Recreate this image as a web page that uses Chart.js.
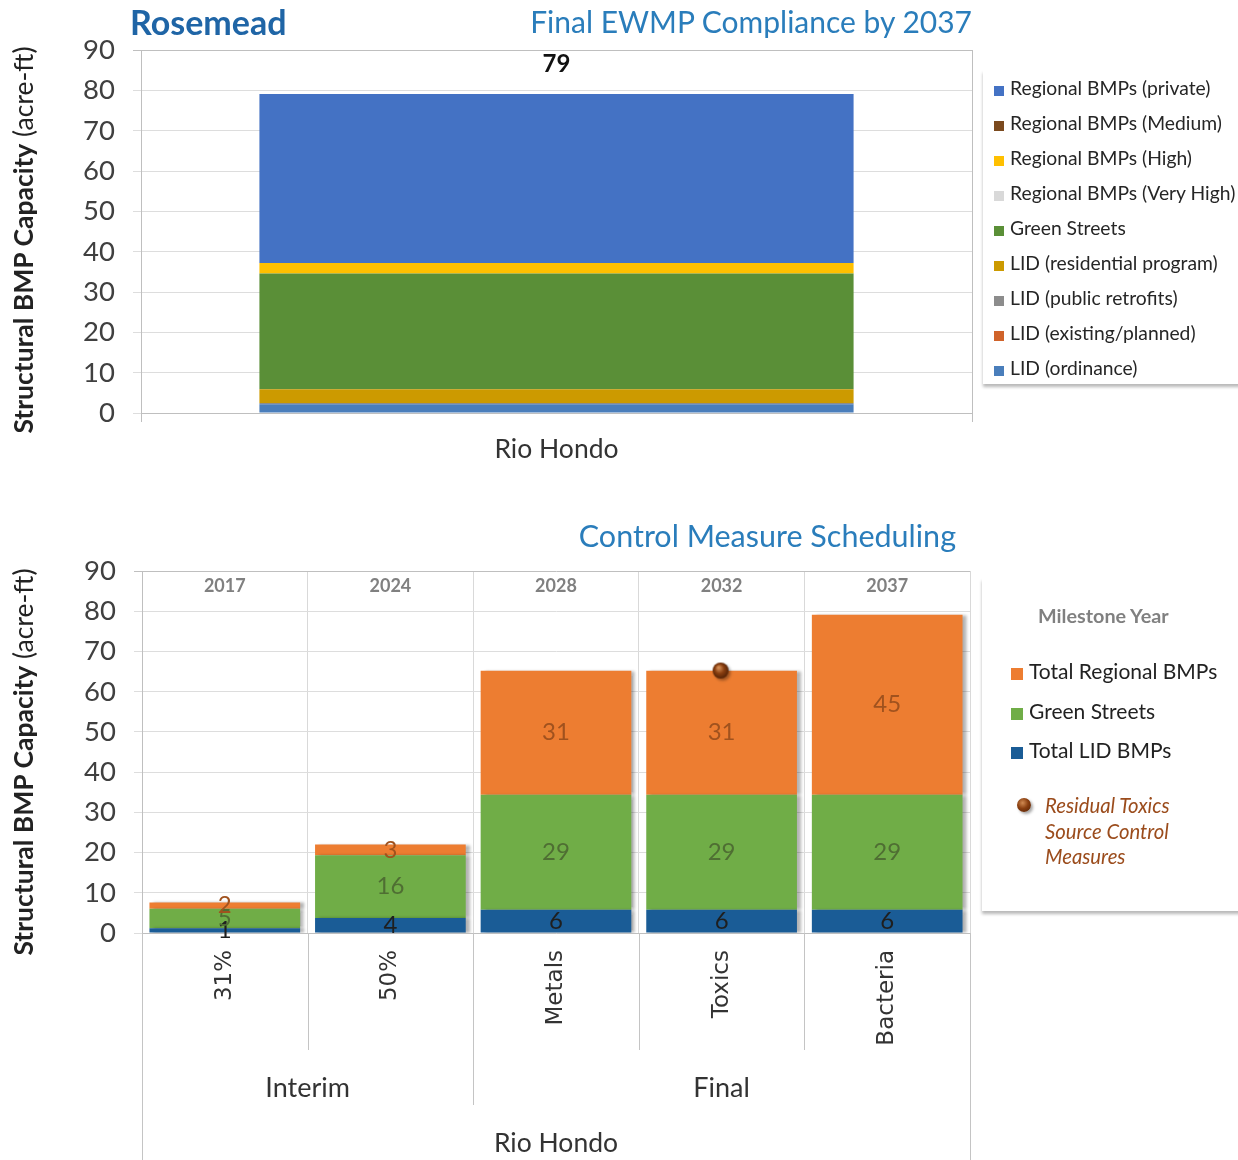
<!DOCTYPE html>
<html>
<head>
<meta charset="utf-8">
<script src="https://cdn.jsdelivr.net/npm/chart.js@4.4.1/dist/chart.umd.min.js"></script>
<style>
  body { margin: 0; background: #fff; }
  #page { position: relative; width: 1238px; height: 1160px; overflow: hidden; font-family: Lato, "Open Sans", sans-serif; color: #222; }
  canvas { position: absolute; left: 0; }
  .title { position: absolute; white-space: nowrap; line-height: 1; }
  .ytitle { position: absolute; white-space: nowrap; font-size: 26.5px; line-height: 1; color: #222; transform: translate(-50%, -50%) rotate(-90deg); }
  .legend { position: absolute; background: #fff; box-shadow: 0 3px 3px rgba(0,0,0,0.28); }
  .item { position: absolute; white-space: nowrap; line-height: 20px; }
  .sw { display: inline-block; vertical-align: -1px; }
  .ball { position: absolute; width: 14px; height: 14px; border-radius: 50%;
          background: radial-gradient(circle at 40% 35%, #d08a52 0%, #8a3f10 45%, #4a1d04 100%);
          box-shadow: 2px 2px 3px rgba(0,0,0,0.35); }
</style>
</head>
<body>
<div id="page">
  <canvas id="grafikFinal" width="980" height="480" style="top:0"></canvas>
  <canvas id="grafikJadwal" width="980" height="670" style="top:490px"></canvas>

  <div class="title" style="left:130px;top:5px;font-size:34px;font-weight:bold;color:#1F65A6">Rosemead</div>
  <div class="title" style="right:266px;top:6px;font-size:30px;color:#2A7DBB">Final EWMP Compliance by 2037</div>
  <div class="title" style="right:282px;top:520px;font-size:30.5px;color:#2A7DBB">Control Measure Scheduling</div>

  <div class="ytitle" style="left:23px;top:240px"><b>Structural BMP Capacity</b> (acre-ft)</div>
  <div class="ytitle" style="left:23px;top:762px"><b>Structural BMP Capacity</b> (acre-ft)</div>

  <div class="legend" id="legendFinal" style="left:983px;top:70px;width:262px;height:314px"></div>
  <div class="legend" id="legendJadwal" style="left:982px;top:578px;width:262px;height:333px"></div>
</div>

<script>
// ── Data: Final EWMP Compliance by 2037 (stack order, bottom to top) ──
const finalCategories = ['Rio Hondo'];
const finalSeries = ['LID (ordinance)', 'LID (existing/planned)', 'LID (public retrofits)', 'LID (residential program)',
                     'Green Streets', 'Regional BMPs (Very High)', 'Regional BMPs (High)', 'Regional BMPs (Medium)', 'Regional BMPs (private)'];
const finalValues = [2.2, 0, 0.3, 3.4, 28.7, 0, 2.6, 0, 41.9];
const finalColors = ['#4A7EBB', '#D0632A', '#8C8C8C', '#CC9A00', '#5A8F37', '#D9D9D9', '#FFC000', '#7B4A1E', '#4472C4'];

// ── Data: Control Measure Scheduling ──
const milestoneCategories = ['31%', '50%', 'Metals', 'Toxics', 'Bacteria'];
const milestoneYears = ['2017', '2024', '2028', '2032', '2037'];
const phaseNames = ['Interim', 'Final'];
const phaseSizes = [2, 3];
const watershedName = 'Rio Hondo';
const lidBmps = [1.2, 3.7, 5.8, 5.8, 5.8];
const greenStreets = [4.8, 15.6, 28.6, 28.6, 28.6];
const regionalBmps = [1.6, 2.7, 30.8, 30.8, 44.7];
const residualToxics = [null, null, null, 65, null];

const yMax = 90, yStep = 10;

const FONT = 'Lato';

// ── Legend: Final ──
(function () {
    const box = document.getElementById('legendFinal');
    for (let i = finalSeries.length - 1, k = 0; i >= 0; i--, k++) {
        const d = document.createElement('div');
        d.className = 'item';
        d.style.left = '11px';
        d.style.top = (8 + 35 * k) + 'px';
        d.style.fontSize = '19.3px';
        d.style.color = '#262626';
        d.innerHTML = '<span class="sw" style="width:10px;height:10px;margin-right:6px;background:' + finalColors[i] + '"></span>' + finalSeries[i];
        box.appendChild(d);
    }
})();

// ── Legend: Jadwal ──
const jadwalSeries = ['Total LID BMPs', 'Green Streets', 'Total Regional BMPs'];
const jadwalColors = ['#1A5C96', '#70AD47', '#ED7D31'];
const jadwalLabelColors = ['#1F1F1F', '#4F6E33', '#A0521E'];
(function () {
    const box = document.getElementById('legendJadwal');
    const t = document.createElement('div');
    t.className = 'item';
    t.style.cssText = 'left:56px;top:27px;font-size:19.8px;font-weight:bold;color:#808080';
    t.textContent = 'Milestone Year';
    box.appendChild(t);
    for (let i = jadwalSeries.length - 1, k = 0; i >= 0; i--, k++) {
        const d = document.createElement('div');
        d.className = 'item';
        d.style.left = '29px';
        d.style.top = (83 + 39.5 * k) + 'px';
        d.style.fontSize = '21px';
        d.style.color = '#222';
        d.innerHTML = '<span class="sw" style="width:12px;height:12px;margin-right:6px;background:' + jadwalColors[i] + '"></span>' + jadwalSeries[i];
        box.appendChild(d);
    }
    const b = document.createElement('div');
    b.className = 'ball';
    b.style.left = '35px';
    b.style.top = '220px';
    box.appendChild(b);
    const r = document.createElement('div');
    r.className = 'item';
    r.style.cssText = 'left:63px;top:215px;font-size:20.3px;font-style:italic;color:#9B4C1C;line-height:25.5px';
    r.innerHTML = 'Residual Toxics<br>Source Control<br>Measures';
    box.appendChild(r);
})();

// ── Grafik 1: Final EWMP Compliance ──
const labelTotal = {
    id: 'labelTotal',
    afterDatasetsDraw(chart) {
        const ctx = chart.ctx, y = chart.scales.y, x = chart.scales.x;
        const total = finalValues.reduce((a, b) => a + b, 0);
        ctx.save();
        ctx.font = 'bold 24px ' + FONT;
        ctx.fillStyle = '#111';
        ctx.textAlign = 'center';
        ctx.textBaseline = 'middle';
        ctx.fillText(Math.round(total), x.getPixelForValue(0), y.getPixelForValue(total) - 30);
        ctx.restore();
    }
};

new Chart(document.getElementById('grafikFinal'), {
    type: 'bar',
    data: {
        labels: finalCategories,
        datasets: finalSeries.map(function (s, i) {
            return { label: s, data: [finalValues[i]], backgroundColor: finalColors[i], barPercentage: 0.715, categoryPercentage: 1 };
        })
    },
    options: {
        responsive: false, animation: false,
        layout: { padding: { top: 50, right: 8, left: 0, bottom: 0 } },
        plugins: { legend: { display: false }, tooltip: { enabled: false } },
        scales: {
            x: {
                stacked: true,
                grid: { offset: true, color: '#BFBFBF', tickLength: 9 },
                border: { color: '#BFBFBF' },
                ticks: { font: { family: FONT, size: 26.5 }, color: '#333', padding: 12 },
                afterFit: function (s) { s.height = 67; }
            },
            y: {
                stacked: true, min: 0, max: yMax,
                ticks: { stepSize: yStep, font: { family: FONT, size: 27.5 }, color: '#404040', padding: 18 },
                grid: { color: function (c) { return c.tick && c.tick.value === yMax ? '#BFBFBF' : '#DDDDDD'; }, tickLength: 8 },
                border: { color: '#BFBFBF' },
                afterFit: function (s) { s.width = 141; }
            }
        }
    },
    plugins: [labelTotal]
});

// ── Grafik 2: Control Measure Scheduling ──
const bola = document.createElement('canvas');
bola.width = 24; bola.height = 24;
(function () {
    const c = bola.getContext('2d');
    c.shadowColor = 'rgba(0,0,0,0.35)'; c.shadowBlur = 3; c.shadowOffsetX = 2; c.shadowOffsetY = 2;
    const g = c.createRadialGradient(9, 8, 1, 11, 11, 9);
    g.addColorStop(0, '#d08a52'); g.addColorStop(0.45, '#8a3f10'); g.addColorStop(1, '#4a1d04');
    c.fillStyle = g;
    c.beginPath(); c.arc(11, 11, 8, 0, Math.PI * 2); c.fill();
})();

const bayangan = {
    id: 'bayangan',
    beforeDatasetDraw(chart, args) {
        if (args.meta.type !== 'bar') return;
        const ctx = chart.ctx;
        ctx.save();
        ctx.shadowColor = 'rgba(0,0,0,0.3)'; ctx.shadowOffsetX = 4; ctx.shadowOffsetY = 0; ctx.shadowBlur = 3;
    },
    afterDatasetDraw(chart, args) {
        if (args.meta.type !== 'bar') return;
        chart.ctx.restore();
    }
};

const labelSegmen = {
    id: 'labelSegmen',
    afterDatasetsDraw(chart) {
        const ctx = chart.ctx;
        ctx.save();
        ctx.font = '24px ' + FONT;
        ctx.textAlign = 'center';
        ctx.textBaseline = 'middle';
        for (let d = 0; d < 3; d++) {
            const meta = chart.getDatasetMeta(d);
            const vals = chart.data.datasets[d].data;
            ctx.fillStyle = jadwalLabelColors[d];
            meta.data.forEach(function (el, i) {
                ctx.fillText(Math.round(vals[i]), el.x, (el.y + el.base) / 2);
            });
        }
        ctx.restore();
    }
};

const sumbuBertingkat = {
    id: 'sumbuBertingkat',
    afterDraw(chart) {
        const ctx = chart.ctx, x = chart.scales.x, area = chart.chartArea;
        const n = milestoneCategories.length;
        const half = (x.getPixelForValue(1) - x.getPixelForValue(0)) / 2;
        const edge = function (i) { return i < n ? x.getPixelForValue(i) - half : x.getPixelForValue(n - 1) + half; };
        ctx.save();
        // label tahun di pita atas
        ctx.font = 'bold 18px ' + FONT;
        ctx.fillStyle = '#808080';
        ctx.textAlign = 'center';
        ctx.textBaseline = 'middle';
        milestoneYears.forEach(function (yr, i) { ctx.fillText(yr, x.getPixelForValue(i), area.top + 15); });

        // garis pemisah di bawah sumbu
        const groupEdges = [0];
        phaseSizes.forEach(function (s) { groupEdges.push(groupEdges[groupEdges.length - 1] + s); });
        ctx.strokeStyle = '#C4C4C4';
        ctx.lineWidth = 1;
        for (let i = 0; i <= n; i++) {
            let len = 117;
            if (i === 0 || i === n) len = chart.height - area.bottom;
            else if (groupEdges.indexOf(i) >= 0) len = 172;
            const px = Math.round(edge(i)) + 0.5;
            ctx.beginPath(); ctx.moveTo(px, area.bottom); ctx.lineTo(px, area.bottom + len); ctx.stroke();
        }
        // label kelompok
        ctx.font = '27px ' + FONT;
        ctx.fillStyle = '#333';
        phaseNames.forEach(function (p, g) {
            const cx = (edge(groupEdges[g]) + edge(groupEdges[g + 1])) / 2;
            ctx.fillText(p, cx, area.bottom + 155);
        });
        ctx.font = '26.5px ' + FONT;
        ctx.fillText(watershedName, (edge(0) + edge(n)) / 2, area.bottom + 210);
        ctx.restore();
    }
};

new Chart(document.getElementById('grafikJadwal'), {
    type: 'bar',
    data: {
        labels: milestoneCategories,
        datasets: [
            { label: jadwalSeries[0], data: lidBmps, backgroundColor: jadwalColors[0], barPercentage: 0.91, categoryPercentage: 1 },
            { label: jadwalSeries[1], data: greenStreets, backgroundColor: jadwalColors[1], barPercentage: 0.91, categoryPercentage: 1 },
            { label: jadwalSeries[2], data: regionalBmps, backgroundColor: jadwalColors[2], barPercentage: 0.91, categoryPercentage: 1 },
            { type: 'line', label: 'Residual Toxics Source Control Measures', data: residualToxics, stack: 'penanda',
              showLine: false, pointStyle: bola, pointRadius: 8, order: -1 }
        ]
    },
    options: {
        responsive: false, animation: false,
        layout: { padding: { top: 81, right: 10, left: 0, bottom: 0 } },
        plugins: { legend: { display: false }, tooltip: { enabled: false } },
        scales: {
            x: {
                stacked: true,
                grid: { offset: true, color: function (c) { return (c.index === 0) ? '#BFBFBF' : '#D9D9D9'; }, drawTicks: false },
                border: { color: '#BFBFBF' },
                ticks: { font: { family: 'DejaVu Sans', size: 23 }, color: '#333', padding: 17, minRotation: 90, maxRotation: 90 },
                afterFit: function (s) { s.height = 227; }
            },
            y: {
                stacked: true, min: 0, max: yMax,
                ticks: { stepSize: yStep, font: { family: FONT, size: 27.5 }, color: '#404040', padding: 18 },
                grid: { color: function (c) { return c.tick && c.tick.value === yMax ? '#BFBFBF' : '#DDDDDD'; }, tickLength: 8 },
                border: { color: '#BFBFBF' },
                afterFit: function (s) { s.width = 142; }
            }
        }
    },
    plugins: [bayangan, labelSegmen, sumbuBertingkat]
});
</script>
</body>
</html>
